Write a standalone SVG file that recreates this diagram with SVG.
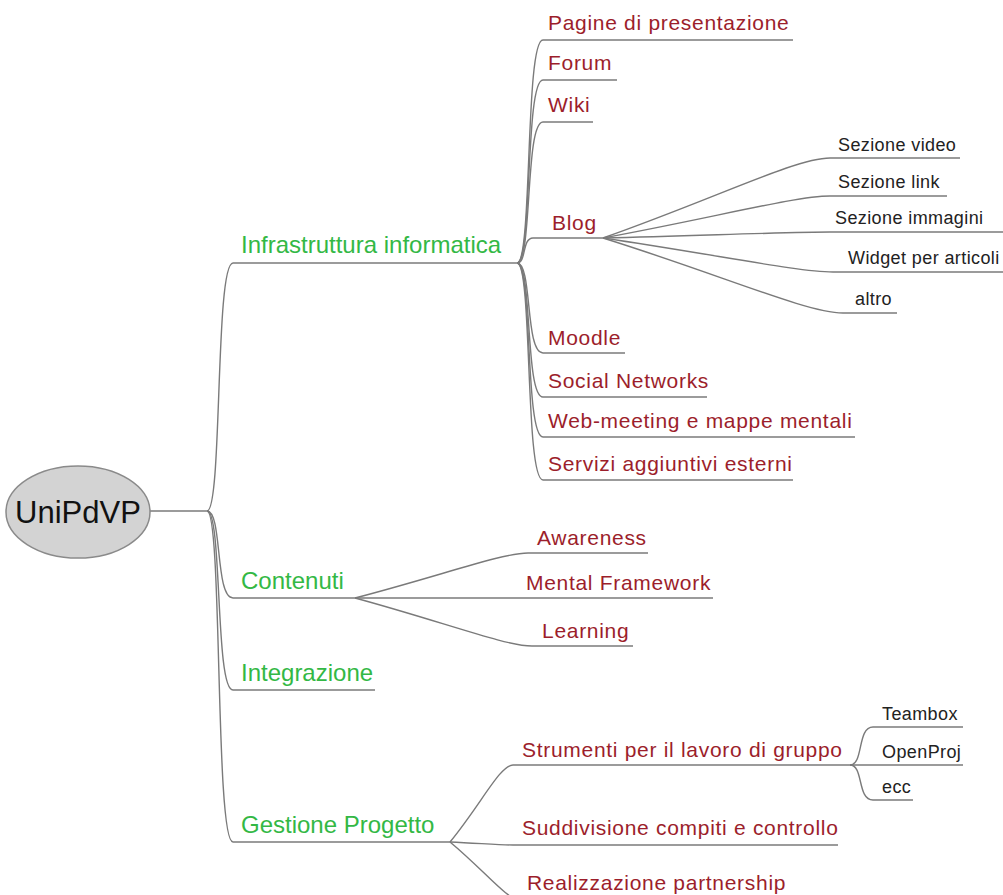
<svg xmlns="http://www.w3.org/2000/svg" width="1003" height="895" viewBox="0 0 1003 895">
<style>
.c{fill:none;stroke:#7a7a7a;stroke-width:1.4}
.u{stroke:#7a7a7a;stroke-width:1.4}
.g{font-family:"Liberation Sans",Arial,sans-serif;font-size:24px;fill:#33b845}
.r{font-family:"Liberation Sans",Arial,sans-serif;font-size:21px;letter-spacing:0.7px;fill:#9c1e2b}
.b{font-family:"Liberation Sans",Arial,sans-serif;font-size:18px;letter-spacing:0.4px;fill:#222}
</style>
<rect width="1003" height="895" fill="#fff"/>
<g id="connectors">
<path class="c" d="M150,511 H207"/>
<path class="c" d="M207,511 C222.6,511 214.8,263 233,263"/>
<path class="c" d="M207,511 C222.6,511 214.8,598 233,598"/>
<path class="c" d="M207,511 C222.6,511 214.8,690 233,690"/>
<path class="c" d="M207,511 C222.6,511 214.8,842 233,842"/>
<path class="c" d="M517,263 C532.6,263 524.8,40 543,40"/>
<path class="c" d="M517,263 C532.6,263 524.8,80 543,80"/>
<path class="c" d="M517,263 C532.6,263 524.8,122 543,122"/>
<path class="c" d="M517,263 C526.6,263 521.8,238 533,238"/>
<path class="c" d="M517,263 C532.6,263 524.8,353 543,353"/>
<path class="c" d="M517,263 C532.6,263 524.8,397 543,397"/>
<path class="c" d="M517,263 C532.6,263 524.8,437 543,437"/>
<path class="c" d="M517,263 C532.6,263 524.8,480 543,480"/>
<path class="c" d="M603,238 C716.5,198 796,158 830,158"/>
<path class="c" d="M603,238 C716.5,217 796,196 830,196"/>
<path class="c" d="M603,238 C716.5,235 796,232 830,232"/>
<path class="c" d="M603,238 C718,255 798.5,272 833,272"/>
<path class="c" d="M603,238 C723,275.5 807,313 843,313"/>
<path class="c" d="M355,598 C441.5,575.5 502,553 528,553"/>
<path class="c" d="M355,598 C443.5,622 505.5,646 532,646"/>
<path class="c" d="M450,842 C481.5,803.5 500,765 513,765"/>
<path class="c" d="M450,842 C481.5,843.5 503.5,845 513,845"/>
<path class="c" d="M450,842 C485,871 507,900 520,900"/>
<path class="c" d="M850,765 C863.8,765 856.9,727 873,727"/>
<path class="c" d="M850,765 C863.8,765 856.9,800 873,800"/>
</g>
<g id="root">
<ellipse cx="78" cy="512" rx="72" ry="46" fill="#d3d3d3" stroke="#8a8a8a" stroke-width="1.5"/>
<text x="78" y="523" text-anchor="middle" font-family="Liberation Sans, Arial, sans-serif" font-size="31" fill="#111">UniPdVP</text>
</g>
<g id="infrastruttura"><line class="u" x1="233" y1="263" x2="517" y2="263"/><text class="g" x="241" y="253">Infrastruttura informatica</text></g>
<g id="contenuti"><line class="u" x1="233" y1="598" x2="355" y2="598"/><text class="g" x="241" y="589">Contenuti</text></g>
<g id="integrazione"><line class="u" x1="233" y1="690" x2="375" y2="690"/><text class="g" x="241" y="681">Integrazione</text></g>
<g id="gestione"><line class="u" x1="233" y1="842" x2="450" y2="842"/><text class="g" x="241" y="833">Gestione Progetto</text></g>
<g id="pagine"><line class="u" x1="543" y1="40" x2="793" y2="40"/><text class="r" x="548" y="30">Pagine di presentazione</text></g>
<g id="forum"><line class="u" x1="543" y1="80" x2="617" y2="80"/><text class="r" x="548" y="70">Forum</text></g>
<g id="wiki"><line class="u" x1="543" y1="122" x2="593" y2="122"/><text class="r" x="548" y="112">Wiki</text></g>
<g id="blog"><line class="u" x1="533" y1="238" x2="603" y2="238"/><text class="r" x="552" y="230">Blog</text></g>
<g id="moodle"><line class="u" x1="543" y1="353" x2="625" y2="353"/><text class="r" x="548" y="345">Moodle</text></g>
<g id="social"><line class="u" x1="543" y1="397" x2="707" y2="397"/><text class="r" x="548" y="388">Social Networks</text></g>
<g id="webmeeting"><line class="u" x1="543" y1="437" x2="855" y2="437"/><text class="r" x="548" y="428">Web-meeting e mappe mentali</text></g>
<g id="servizi"><line class="u" x1="543" y1="480" x2="793" y2="480"/><text class="r" x="548" y="471">Servizi aggiuntivi esterni</text></g>
<g id="video"><line class="u" x1="830" y1="158" x2="960" y2="158"/><text class="b" x="838" y="151">Sezione video</text></g>
<g id="link"><line class="u" x1="830" y1="196" x2="947" y2="196"/><text class="b" x="838" y="188">Sezione link</text></g>
<g id="immagini"><line class="u" x1="830" y1="232" x2="1003" y2="232"/><text class="b" x="835" y="224">Sezione immagini</text></g>
<g id="widget"><line class="u" x1="833" y1="272" x2="1003" y2="272"/><text class="b" x="848" y="264">Widget per articoli</text></g>
<g id="altro"><line class="u" x1="843" y1="313" x2="897" y2="313"/><text class="b" x="855" y="305">altro</text></g>
<g id="awareness"><line class="u" x1="528" y1="553" x2="648" y2="553"/><text class="r" x="537" y="545">Awareness</text></g>
<g id="mental"><line class="u" x1="355" y1="598" x2="713" y2="598"/><text class="r" x="526" y="590">Mental Framework</text></g>
<g id="learning"><line class="u" x1="532" y1="646" x2="633" y2="646"/><text class="r" x="542" y="638">Learning</text></g>
<g id="strumenti"><line class="u" x1="513" y1="765" x2="850" y2="765"/><text class="r" x="522" y="757">Strumenti per il lavoro di gruppo</text></g>
<g id="suddivisione"><line class="u" x1="513" y1="845" x2="838" y2="845"/><text class="r" x="522" y="835">Suddivisione compiti e controllo</text></g>
<g id="realizzazione"><line class="u" x1="520" y1="900" x2="770" y2="900"/><text class="r" x="527" y="890">Realizzazione partnership</text></g>
<g id="teambox"><line class="u" x1="873" y1="727" x2="963" y2="727"/><text class="b" x="882" y="720">Teambox</text></g>
<g id="openproj"><line class="u" x1="850" y1="765" x2="963" y2="765"/><text class="b" x="882" y="758">OpenProj</text></g>
<g id="ecc"><line class="u" x1="873" y1="800" x2="913" y2="800"/><text class="b" x="882" y="793">ecc</text></g>
</svg>
